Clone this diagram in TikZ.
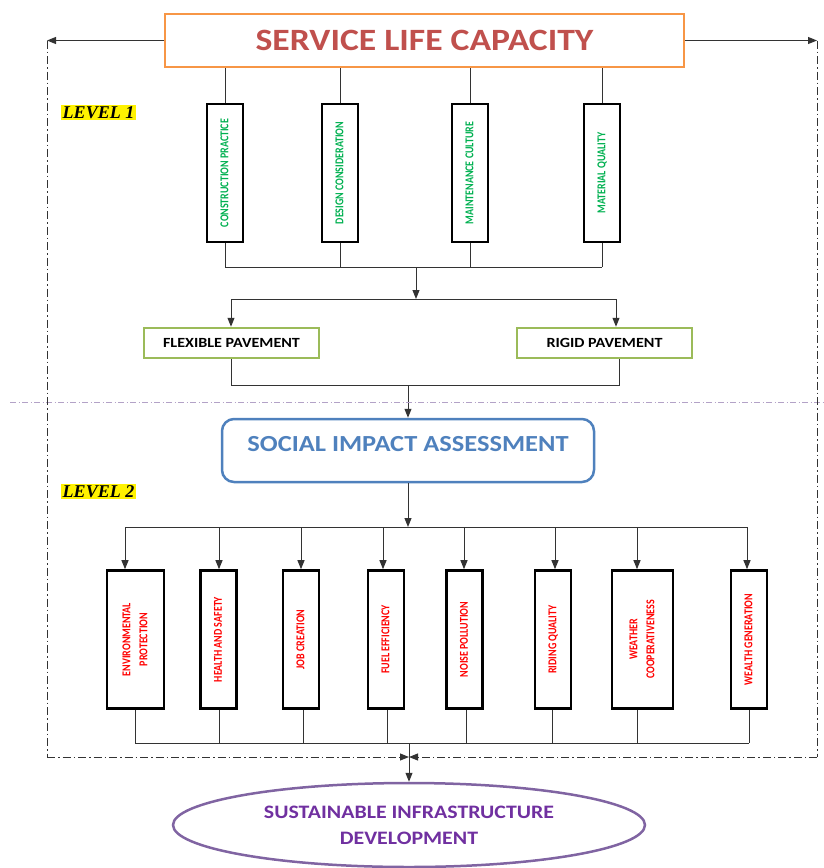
\documentclass[tikz,border=0pt]{standalone}
\usepackage{fontspec}
\setmainfont{Carlito}
\newfontfamily\narrowfont[FakeStretch=0.83]{Carlito}
\newfontfamily\widefont[FakeStretch=1.15]{Carlito}
\newfontfamily\levelfont{Liberation Serif}
\usetikzlibrary{arrows.meta,shapes.geometric}

\definecolor{title red}{HTML}{C0504D}
\definecolor{title edge}{HTML}{F79646}
\definecolor{factor green}{HTML}{00B050}
\definecolor{pave edge}{HTML}{9BBB59}
\definecolor{sia blue}{HTML}{4F81BD}
\definecolor{sid purple}{HTML}{7030A0}
\definecolor{sid edge}{HTML}{8064A2}
\definecolor{split purple}{HTML}{B3A2C7}

\newcommand{\greenlabel}[1]{\rotatebox{90}{\narrowfont\bfseries\fontsize{12}{17}\selectfont\color{factor green}\begin{tabular}{@{}c@{}}#1\end{tabular}}}
\newcommand{\redlabel}[1]{\rotatebox{90}{\narrowfont\bfseries\fontsize{12}{17}\selectfont\color{red}\begin{tabular}{@{}c@{}}#1\end{tabular}}}

\tikzset{
  factor/.style={draw=black, line width=2.6pt, inner sep=0pt, minimum height=138pt},
  pavement/.style={draw=pave edge, line width=2.5pt, minimum width=175pt, minimum height=30pt, font=\widefont\bfseries\fontsize{14}{16}\selectfont},
  link/.style={draw=black!80, line width=1pt},
  arrow/.style={link, -{Triangle[length=9pt,width=7pt]}},
  loop line/.style={draw=black!80, line width=1pt, dash pattern=on 8pt off 3pt on 1.5pt off 3pt},
  level tag/.style={fill=yellow, inner sep=1.5pt, font=\levelfont\bfseries\itshape\fontsize{18}{20}\selectfont}
}

\begin{document}
\begin{tikzpicture}[x=1pt,y=-1pt]
    \useasboundingbox (0,0) rectangle (823,868);

    % Service life capacity
    \node[draw=title edge, line width=2.5pt, minimum width=519pt, minimum height=53pt,
          text=title red, font=\widefont\bfseries\fontsize{31}{34}\selectfont] (slc) at (424.5,40.5) {SERVICE LIFE CAPACITY};

    \node[level tag] (lvl1) at (98.5,112.5) {LEVEL 1};
    \node[level tag] (lvl2) at (98.5,491.5) {LEVEL 2};

    % level 1 factors
    \coordinate (bus1) at (0,267);
    \foreach \name/\cx/\txt in {cp/225/CONSTRUCTION PRACTICE, dc/340/DESIGN CONSIDERATION, mc/470/MAINTENANCE CULTURE, mq/602/MATERIAL QUALITY} {
      \node[factor, minimum width=36pt] (\name) at (\cx,173) {\greenlabel{\txt}};
      \draw[link] (slc.south -| \name) -- (\name.north);
      \coordinate (\name-foot) at (\name.south |- bus1);
      \draw[link] (\name.south) -- (\name-foot);
    }
    \draw[link] (cp-foot) -- (mq-foot);

    % the two pavements
    \node[pavement] (flex) at (231.5,343) {FLEXIBLE PAVEMENT};
    \node[pavement] (rigid) at (604.5,343) {RIGID PAVEMENT};
    \coordinate (split) at (416,267);
    \coordinate (fork) at (416,299);
    \coordinate (lfork) at (231,299);
    \coordinate (rfork) at (616,299);
    \draw[arrow] (split) -- (fork);
    \draw[link] (lfork) -- (rfork);
    \draw[arrow] (lfork) -- (lfork |- flex.north);
    \draw[arrow] (rfork) -- (rfork |- rigid.north);

    % Social impact assessment
    \node[draw=sia blue, line width=2.5pt, rounded corners=12pt, minimum width=372pt, minimum height=63pt,
          text=sia blue, text depth=14pt, font=\widefont\bfseries\fontsize{23}{26}\selectfont] (sia) at (408,450.5) {SOCIAL IMPACT ASSESSMENT};
    \coordinate (join) at (408,385);
    \coordinate (rjoin) at (619,385);
    \draw[link] (flex.south) |- (rjoin) -- (rjoin |- rigid.south);
    \draw[arrow] (join) -- (sia.north);

    \draw[split purple, line width=0.8pt, dash pattern=on 6pt off 2.5pt on 1pt off 2.5pt] (10,402) -- (823,402);

    % level 2 impacts
    \coordinate (bus2) at (0,527);
    \coordinate (bus3) at (0,743);
    \draw[arrow] (sia.south) -- (sia.south |- bus2);
    \foreach \name/\cx/\w/\ax/\bx/\txt in {ep/135.5/57/125/135/{ENVIRONMENTAL\\PROTECTION}, hs/218.5/36/219/219/HEALTH AND SAFETY,
        jc/301/36/301/303/JOB CREATION, fe/386/36/383/387/FUEL EFFICIENCY, np/464.5/36/464/466/NOISE POLLUTION,
        rq/553/36/555/552/RIDING QUALITY, wc/642.5/61/637/637/{WEATHER\\COOPERATIVENESS}, wg/749/36/747/749/WEALTH GENERATION} {
      \node[factor, minimum width=\w pt] (\name) at (\cx,639.5) {\redlabel{\txt}};
      \coordinate (\name-top) at (\ax,527);
      \coordinate (\name-foot) at (\bx,743);
      \draw[arrow] (\name-top) -- (\name-top |- \name.north);
      \draw[link] (\name-foot |- \name.south) -- (\name-foot);
    }
    \draw[link] (ep-top) -- (wg-top);
    \draw[link] (ep-foot) -- (wg-foot);

    % Sustainable infrastructure development
    \node[ellipse, draw=sid edge, line width=2.5pt, minimum width=472pt, minimum height=84pt, align=center,
          text=sid purple, font=\widefont\bfseries\fontsize{19}{26}\selectfont] (sid) at (409,825) {SUSTAINABLE INFRASTRUCTURE\\DEVELOPMENT};

    % The feedback loop
    \coordinate (lside) at (47,757);
    \coordinate (rside) at (817,757);
    \coordinate (meet) at (409,757);
    \draw[arrow] (slc.west) -- (slc.west -| lside);
    \draw[arrow] (slc.east) -- (slc.east -| rside);
    \draw[loop line] (slc.west -| lside) -- (lside);
    \draw[loop line] (slc.east -| rside) -- (rside);
    \draw[loop line, -{Triangle[length=9pt,width=7pt]}] (lside) -- (meet);
    \draw[loop line, -{Triangle[length=9pt,width=7pt]}] (rside) -- (meet);
    \draw[arrow] (meet |- bus3) -- (sid.north);
\end{tikzpicture}
\end{document}
